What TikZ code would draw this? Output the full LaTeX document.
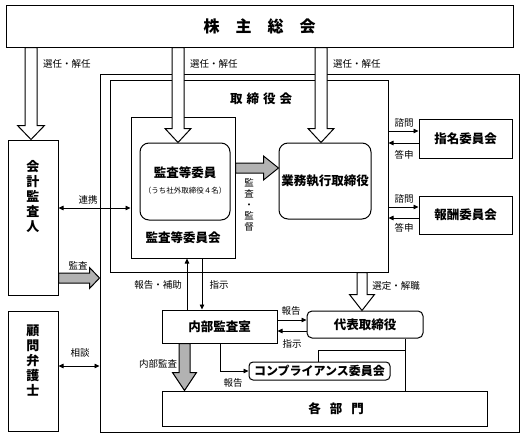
\documentclass[tikz,border=0pt]{standalone}
\usepackage{fontspec}
\setmainfont{Noto Sans CJK JP}
\usetikzlibrary{arrows.meta,calc}
% block arrows: #1 style, #2 start, #3 tip, #4 shaft half, #5 head half, #6 head length
\newcommand\blockdown[6]{%
  \draw[#1] let \p1=(#2), \p2=(#3) in
    (\x2-#4pt,\y1) -- (\x2-#4pt,\y2+#6pt) -- (\x2-#5pt,\y2+#6pt) -- (\x2,\y2)
    -- (\x2+#5pt,\y2+#6pt) -- (\x2+#4pt,\y2+#6pt) -- (\x2+#4pt,\y1) -- cycle;}
\newcommand\blockright[6]{%
  \draw[#1] let \p1=(#2), \p2=(#3) in
    (\x1,\y2+#4pt) -- (\x2-#6pt,\y2+#4pt) -- (\x2-#6pt,\y2+#5pt) -- (\x2,\y2)
    -- (\x2-#6pt,\y2-#5pt) -- (\x2-#6pt,\y2-#4pt) -- (\x1,\y2-#4pt) -- cycle;}
\begin{document}
\begin{tikzpicture}[x=1pt,y=-1pt,
  box/.style={draw, line width=1pt, inner sep=0pt},
  rbox/.style={box, rounded corners=#1},
  head/.style={font=\fontsize{12.5}{13}\selectfont\bfseries},
  small/.style={font=\fontsize{9.5}{11}\selectfont, inner sep=0pt},
  conn/.style={line width=0.8pt},
  tip/.style={-{Triangle[length=5pt,width=4.5pt]}},
  tips/.style={{Triangle[length=5pt,width=4.5pt]}-{Triangle[length=5pt,width=4.5pt]}},
  hollow/.style={line width=1pt, fill=white},
  grayarrow/.style={line width=1pt, fill=black!30}]
\useasboundingbox (0,0) rectangle (528,439);

% boxes
\node[box, minimum width=507pt, minimum height=42pt, font=\fontsize{16}{16}\selectfont\bfseries] (sh) at (259.5,26) {株　主　総　会};
\node[box, minimum width=419pt, minimum height=358pt] (outer) at (309.5,253) {};
\node[box, minimum width=278pt, minimum height=192pt] (board) at (249,176) {};
\node[head, inner sep=0pt] (boardlbl) at (261,99) {取\kern4pt 締\kern4pt 役\kern4pt 会};
\node[box, minimum width=104pt, minimum height=141pt] (acb) at (183,187.5) {};
\node[head, inner sep=0pt] (acblbl) at (183,238) {監査等委員会};
\node[rbox=9pt, minimum width=90pt, minimum height=77pt] (acm) at (185,181.5) {};
\node[head, inner sep=0pt] (acmlbl) at (185,173) {監査等委員};
\node[font=\fontsize{7.5}{8}\selectfont, inner sep=0pt] (acmsub) at (185,191) {（うち社外取締役４名）};
\node[rbox=9pt, minimum width=92pt, minimum height=76pt, head] (exec) at (325,181) {業務執行取締役};
\node[box, minimum width=93pt, minimum height=39pt, head] (nom) at (465.5,138.5) {指名委員会};
\node[box, minimum width=93pt, minimum height=38pt, head] (rem) at (465.5,215) {報酬委員会};
\node[box, minimum width=50pt, minimum height=155pt] (auditor) at (33,217.5) {};
\node[font=\fontsize{13}{14.8}\selectfont\bfseries, align=center, inner sep=0pt] (auditorlbl) at (33,196.5) {会\\計\\監\\査\\人};
\node[box, minimum width=50pt, minimum height=120pt] (lawyer) at (33,371) {};
\node[font=\fontsize{13}{15.2}\selectfont\bfseries, align=center, inner sep=0pt] (lawyerlbl) at (33,360.5) {顧\\問\\弁\\護\\士};
\node[box, minimum width=115pt, minimum height=33pt, head] (ia) at (219.5,326.5) {内部監査室};
\node[rbox=5pt, minimum width=116pt, minimum height=27pt, head] (rep) at (365,324.5) {代表取締役};
\node[rbox=4pt, minimum width=141pt, minimum height=18pt, font=\fontsize{12}{12}\selectfont\bfseries] (comp) at (319.5,371) {コンプライアンス委員会};
\node[box, minimum width=325pt, minimum height=35pt] (dept) at (324.5,408.5) {};
\node[head, inner sep=0pt] (deptlbl) at (336,408.5) {各\kern9pt 部\kern9pt 門};

% hollow arrows from shareholders meeting
\coordinate (c1) at (31,0);
\coordinate (c2) at (178,0);
\coordinate (c3) at (321,0);
\coordinate (c4) at (362,0);
\blockdown{hollow}{sh.south}{auditor.north -| c1}{6}{13.5}{14}
\blockdown{hollow}{sh.south}{acm.north -| c2}{6}{13}{14}
\blockdown{hollow}{sh.south}{exec.north -| c3}{6}{13}{14}
\blockdown{hollow}{board.south}{rep.north -| c4}{5}{12.5}{16}

% gray arrows
\coordinate (g1) at (0,168);
\coordinate (g2) at (0,278);
\coordinate (g3) at (184.5,0);
\blockright{grayarrow}{acb.east |- g1}{exec.west |- g1}{5}{12}{15}
\blockright{grayarrow}{auditor.east |- g2}{outer.west |- g2}{5}{10.5}{10}
\blockdown{grayarrow}{ia.south -| g3}{dept.north -| g3}{5.5}{12}{18}

% thin connectors
\draw[conn, tips] (auditor.east |- 0,208) -- (acb.west |- 0,208);
\draw[conn, tips] (lawyer.east |- 0,366) -- (outer.west |- 0,366);
\draw[conn, tip] (board.east |- 0,131) -- (nom.west |- 0,131);
\draw[conn, tip] (nom.west |- 0,143) -- (board.east |- 0,143);
\draw[conn, tip] (board.east |- 0,207) -- (rem.west |- 0,207);
\draw[conn, tip] (rem.west |- 0,218) -- (board.east |- 0,218);
\draw[conn, tip] (ia.north -| 187,0) -- (acb.south -| 187,0);
\draw[conn, tip] (acb.south -| 202,0) -- (ia.north -| 202,0);
\draw[conn, tip] (ia.east |- 0,320) -- (rep.west |- 0,320);
\draw[conn, tip] (rep.west |- 0,331) -- (ia.east |- 0,331);
\draw[conn, tip] (ia.south -| 220,0) |- (comp.west);
\draw[conn] (rep.south -| 405,0) -- (dept.north -| 405,0);
\coordinate (j) at (405,350);
\draw[conn] (j) -| (comp.north -| 318,0);

% labels
\node[small, anchor=west] (l1) at (43,64) {選任・解任};
\node[small, anchor=west] (l2) at (190,64) {選任・解任};
\node[small, anchor=west] (l3) at (333,64) {選任・解任};
\node[small, align=center] (l4) at (249,205) {監\\査\\・\\監\\督};
\node[small] (l5) at (404,123) {諮問};
\node[small] (l6) at (404,155) {答申};
\node[small] (l7) at (404,199) {諮問};
\node[small] (l8) at (404,228) {答申};
\node[small] (l9) at (88,200) {連携};
\node[small] (l10) at (78,266) {監査};
\node[small] (l11) at (80,353) {相談};
\node[small] (l12) at (158,285) {報告・補助};
\node[small] (l13) at (219,285) {指示};
\node[small] (l14) at (396,286) {選定・解職};
\node[small] (l15) at (291,311) {報告};
\node[small] (l16) at (292,344) {指示};
\node[small] (l17) at (158,364) {内部監査};
\node[small] (l18) at (233,383) {報告};
\end{tikzpicture}
\end{document}
